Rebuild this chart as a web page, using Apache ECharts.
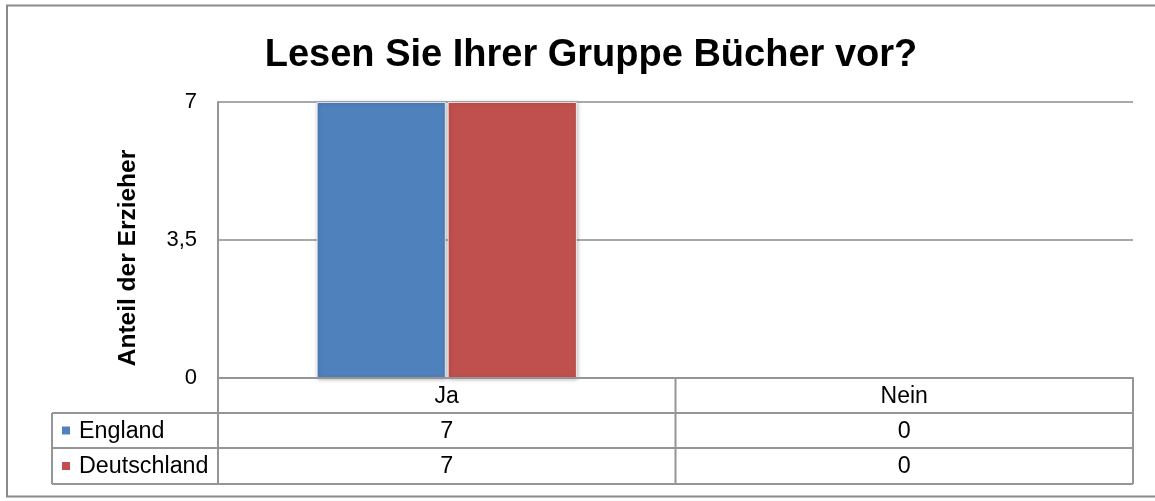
<!DOCTYPE html>
<html><head><meta charset="utf-8">
<script src="https://cdn.jsdelivr.net/npm/echarts@6/dist/echarts.min.js"></script>
<style>html,body{margin:0;padding:0;background:#fff}#c{width:1155px;height:501px}</style>
</head><body><div id="c"></div>
<script>
const titleText = 'Lesen Sie Ihrer Gruppe Bücher vor?';
const yAxisTitle = 'Anteil der Erzieher';
const categories = ['Ja', 'Nein'];
const seriesNames = ['England', 'Deutschland'];
const englandValues = [7, 0];
const deutschlandValues = [7, 0];
const yTicks = [0, 3.5, 7];
const colors = ['#4F81BD', '#C0504D'];

const FONT = '"Liberation Sans", Arial, sans-serif';
const L = 218, R = 1133, T = 102, B = 378;
const rowY = [378, 413, 448, 484];
const tableLeft = 52;
const lineColor = '#959595';

const chart = echarts.init(document.getElementById('c'), null, {renderer: 'canvas'});
const allSeries = [englandValues, deutschlandValues];

chart.setOption({
  animation: false,
  backgroundColor: '#fff',
  textStyle: {fontFamily: FONT},
  grid: {left: L, right: 1155 - R, top: T, bottom: 501 - B},
  xAxis: {
    type: 'category', data: categories,
    axisLine: {show: true, lineStyle: {color: lineColor, width: 2}},
    axisTick: {show: false},
    axisLabel: {color: '#000', fontSize: 23, fontFamily: FONT, margin: 7}
  },
  yAxis: {
    type: 'value', min: yTicks[0], max: yTicks[yTicks.length - 1], interval: yTicks[1] - yTicks[0],
    axisLine: {show: true, lineStyle: {color: lineColor, width: 2}},
    axisTick: {show: false},
    splitLine: {show: true, lineStyle: {color: '#8c8c8c', width: 1.5}},
    axisLabel: {color: '#000', fontSize: 22, fontFamily: FONT, margin: 21,
      formatter: v => String(v).replace('.', ',')}
  },
  series: seriesNames.map((n, i) => ({
    name: n, type: 'bar',
    data: allSeries[i].map(v => v === 0
      ? {value: v, itemStyle: {shadowBlur: 0, shadowColor: 'rgba(0,0,0,0)', borderWidth: 0}}
      : {value: v}),
    barWidth: 129, barGap: '1.6%',
    itemStyle: {color: colors[i], borderColor: '#ffffff', borderWidth: 0.8,
      shadowColor: 'rgba(0,0,0,0.3)', shadowBlur: 4, shadowOffsetX: 1, shadowOffsetY: 1}
  }))
});

const g = [];
g.push({type: 'rect', shape: {x: 7, y: 5.5, width: 1160, height: 491}, style: {fill: null, stroke: '#8a8a8a', lineWidth: 2}, z: 1});
g.push({type: 'text', x: 591, y: 56, style: {text: titleText, font: 'bold 38px ' + FONT, fill: '#000', align: 'center', verticalAlign: 'middle'}});
g.push({type: 'text', x: 128, y: 258, rotation: Math.PI / 2, style: {text: yAxisTitle, font: 'bold 24.5px ' + FONT, fill: '#000', align: 'center', verticalAlign: 'middle'}});

const catBounds = [L];
for (let i = 1; i < categories.length; i++) {
  const a = chart.convertToPixel({xAxisIndex: 0}, categories[i - 1]);
  const b = chart.convertToPixel({xAxisIndex: 0}, categories[i]);
  catBounds.push((a + b) / 2);
}
catBounds.push(R);
const lines = [];
lines.push([L, rowY[0], R, rowY[0]]);
for (let r = 1; r < rowY.length; r++) lines.push([tableLeft, rowY[r], R, rowY[r]]);
lines.push([tableLeft, rowY[1], tableLeft, rowY[rowY.length - 1]]);
lines.push([L, rowY[0], L, rowY[rowY.length - 1]]);
for (let i = 1; i < catBounds.length; i++) lines.push([catBounds[i], rowY[0], catBounds[i], rowY[rowY.length - 1]]);
lines.forEach(l => g.push({type: 'line', shape: {x1: l[0], y1: l[1], x2: l[2], y2: l[3]}, style: {stroke: lineColor, lineWidth: 2}, z: 5}));

seriesNames.forEach((n, s) => {
  const cy = (rowY[s + 1] + rowY[s + 2]) / 2;
  g.push({type: 'rect', shape: {x: 62, y: cy - 4, width: 8, height: 8}, style: {fill: colors[s]}, z: 6});
  g.push({type: 'text', x: 79, y: cy + 1, style: {text: n, font: '23.3px ' + FONT, fill: '#000', align: 'left', verticalAlign: 'middle'}, z: 6});
  categories.forEach((c, i) => {
    const cx = chart.convertToPixel({xAxisIndex: 0}, c);
    g.push({type: 'text', x: cx, y: cy + 1, style: {text: String(allSeries[s][i]), font: '23.3px ' + FONT, fill: '#000', align: 'center', verticalAlign: 'middle'}, z: 6});
  });
});

chart.setOption({graphic: g});
</script></body></html>
